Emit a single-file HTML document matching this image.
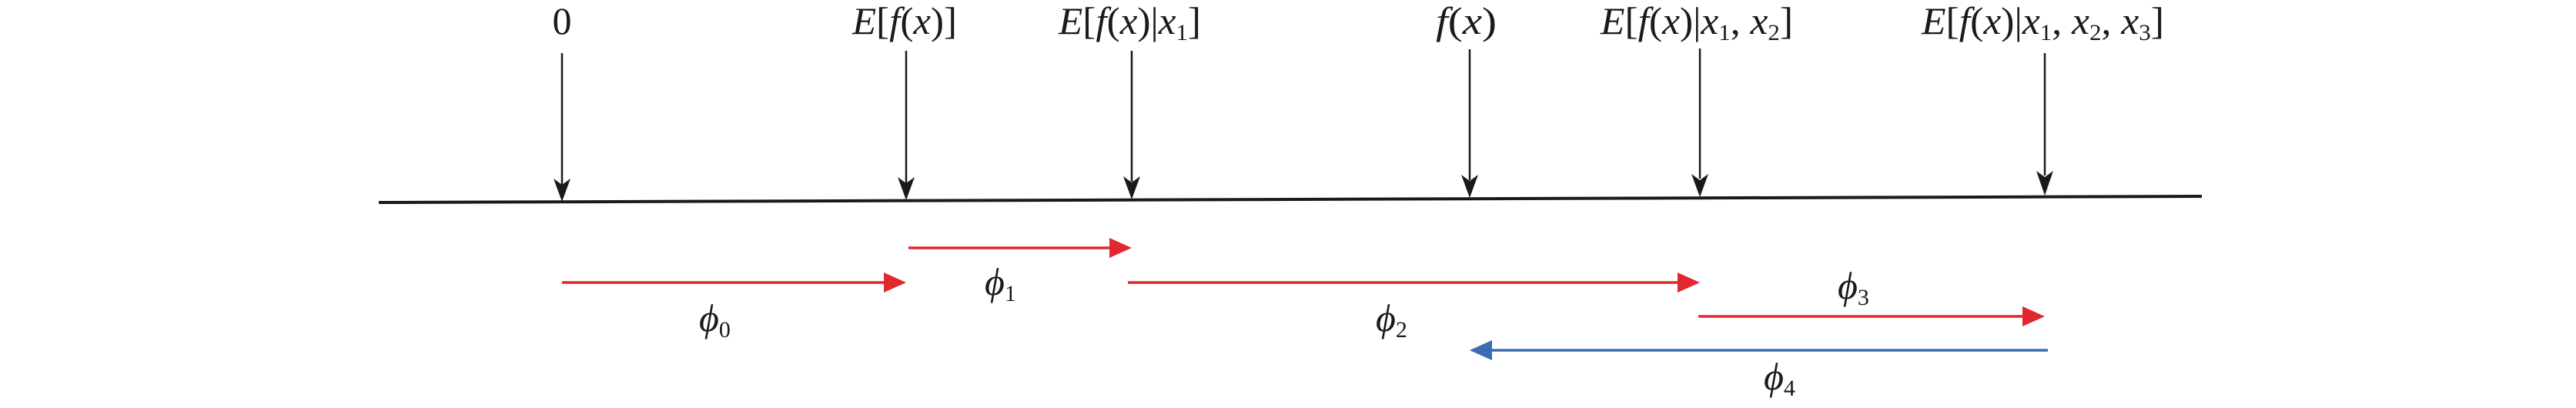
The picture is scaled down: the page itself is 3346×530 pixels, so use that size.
<!DOCTYPE html>
<html><head><meta charset="utf-8"><style>
html,body{margin:0;padding:0;background:#fff;}
svg{display:block;}
text{font-family:"Liberation Serif",serif;fill:#1a1a1a;}
</style></head><body>
<svg width="3346" height="530" viewBox="0 0 3346 530" xmlns="http://www.w3.org/2000/svg">
<defs>
<marker id="kh" markerWidth="10" markerHeight="10" refX="10" refY="5" orient="auto" markerUnits="userSpaceOnUse" viewBox="0 0 10 10"></marker>
</defs>
<!-- axis -->
<line x1="492" y1="263" x2="2860" y2="255" stroke="#1a1a1a" stroke-width="4"/>
<!-- vertical arrows -->
<g stroke="#1a1a1a" stroke-width="2.5" fill="#1a1a1a">
<line x1="730" y1="69" x2="730" y2="240"/>
<line x1="1177" y1="66" x2="1177" y2="238"/>
<line x1="1470" y1="66" x2="1470" y2="236"/>
<line x1="1909" y1="64" x2="1909" y2="234"/>
<line x1="2208" y1="63" x2="2208" y2="232"/>
<line x1="2656" y1="69" x2="2656" y2="228"/>
</g>
<g fill="#1a1a1a">
<path d="M719,232 L730,262 L741,232 L730,240 Z"/>
<path d="M1166,230 L1177,260 L1188,230 L1177,238 Z"/>
<path d="M1459,229 L1470,259 L1481,229 L1470,237 Z"/>
<path d="M1898,227 L1909,257 L1920,227 L1909,235 Z"/>
<path d="M2197,226 L2208,256 L2219,226 L2208,234 Z"/>
<path d="M2645,222 L2656,254 L2667,222 L2656,230 Z"/>
</g>
<!-- top labels -->
<g font-size="50" font-style="italic">
<text x="730" y="44" text-anchor="middle" font-style="normal">0</text>
<text x="1107" y="44" textLength="136" lengthAdjust="spacingAndGlyphs">E<tspan font-style="normal">[</tspan>f<tspan font-style="normal">(</tspan>x<tspan font-style="normal">)]</tspan></text>
<text x="1375" y="44" textLength="185" lengthAdjust="spacingAndGlyphs">E<tspan font-style="normal">[</tspan>f<tspan font-style="normal">(</tspan>x<tspan font-style="normal">)|</tspan>x<tspan font-size="30" font-style="normal" dy="8">1</tspan><tspan font-style="normal" dy="-8">]</tspan></text>
<text x="1865" y="44" textLength="79" lengthAdjust="spacingAndGlyphs">f<tspan font-style="normal">(</tspan>x<tspan font-style="normal">)</tspan></text>
<text x="2079" y="44" textLength="250" lengthAdjust="spacingAndGlyphs">E<tspan font-style="normal">[</tspan>f<tspan font-style="normal">(</tspan>x<tspan font-style="normal">)|</tspan>x<tspan font-size="30" font-style="normal" dy="8">1</tspan><tspan font-style="normal" dy="-8">, </tspan>x<tspan font-size="30" font-style="normal" dy="8">2</tspan><tspan font-style="normal" dy="-8">]</tspan></text>
<text x="2496" y="44" textLength="315" lengthAdjust="spacingAndGlyphs">E<tspan font-style="normal">[</tspan>f<tspan font-style="normal">(</tspan>x<tspan font-style="normal">)|</tspan>x<tspan font-size="30" font-style="normal" dy="8">1</tspan><tspan font-style="normal" dy="-8">, </tspan>x<tspan font-size="30" font-style="normal" dy="8">2</tspan><tspan font-style="normal" dy="-8">, </tspan>x<tspan font-size="30" font-style="normal" dy="8">3</tspan><tspan font-style="normal" dy="-8">]</tspan></text>
</g>
<!-- red arrows -->
<g stroke="#e0282e" stroke-width="3.5">
<line x1="730" y1="367" x2="1155" y2="367"/>
<line x1="1180" y1="322" x2="1448" y2="322"/>
<line x1="1465" y1="367" x2="2186" y2="367"/>
<line x1="2206" y1="411" x2="2634" y2="411"/>
</g>
<g fill="#e0282e">
<path d="M1148,354 L1177,367 L1148,380 Z"/>
<path d="M1441,309 L1470,322 L1441,335 Z"/>
<path d="M2179,354 L2208,367 L2179,380 Z"/>
<path d="M2627,398 L2656,411 L2627,424 Z"/>
</g>
<line x1="1930" y1="455" x2="2660" y2="455" stroke="#3a6db5" stroke-width="3.5"/>
<path d="M1938,442 L1909,455 L1938,468 Z" fill="#3a6db5"/>
<!-- phi labels -->
<g font-size="50" font-style="italic">
<text x="908" y="430">ϕ<tspan font-size="30" font-style="normal" dy="8">0</tspan></text>
<text x="1279" y="383">ϕ<tspan font-size="30" font-style="normal" dy="8">1</tspan></text>
<text x="1787" y="430">ϕ<tspan font-size="30" font-style="normal" dy="8">2</tspan></text>
<text x="2387" y="388">ϕ<tspan font-size="30" font-style="normal" dy="8">3</tspan></text>
<text x="2291" y="506">ϕ<tspan font-size="30" font-style="normal" dy="8">4</tspan></text>
</g>
</svg>
</body></html>
